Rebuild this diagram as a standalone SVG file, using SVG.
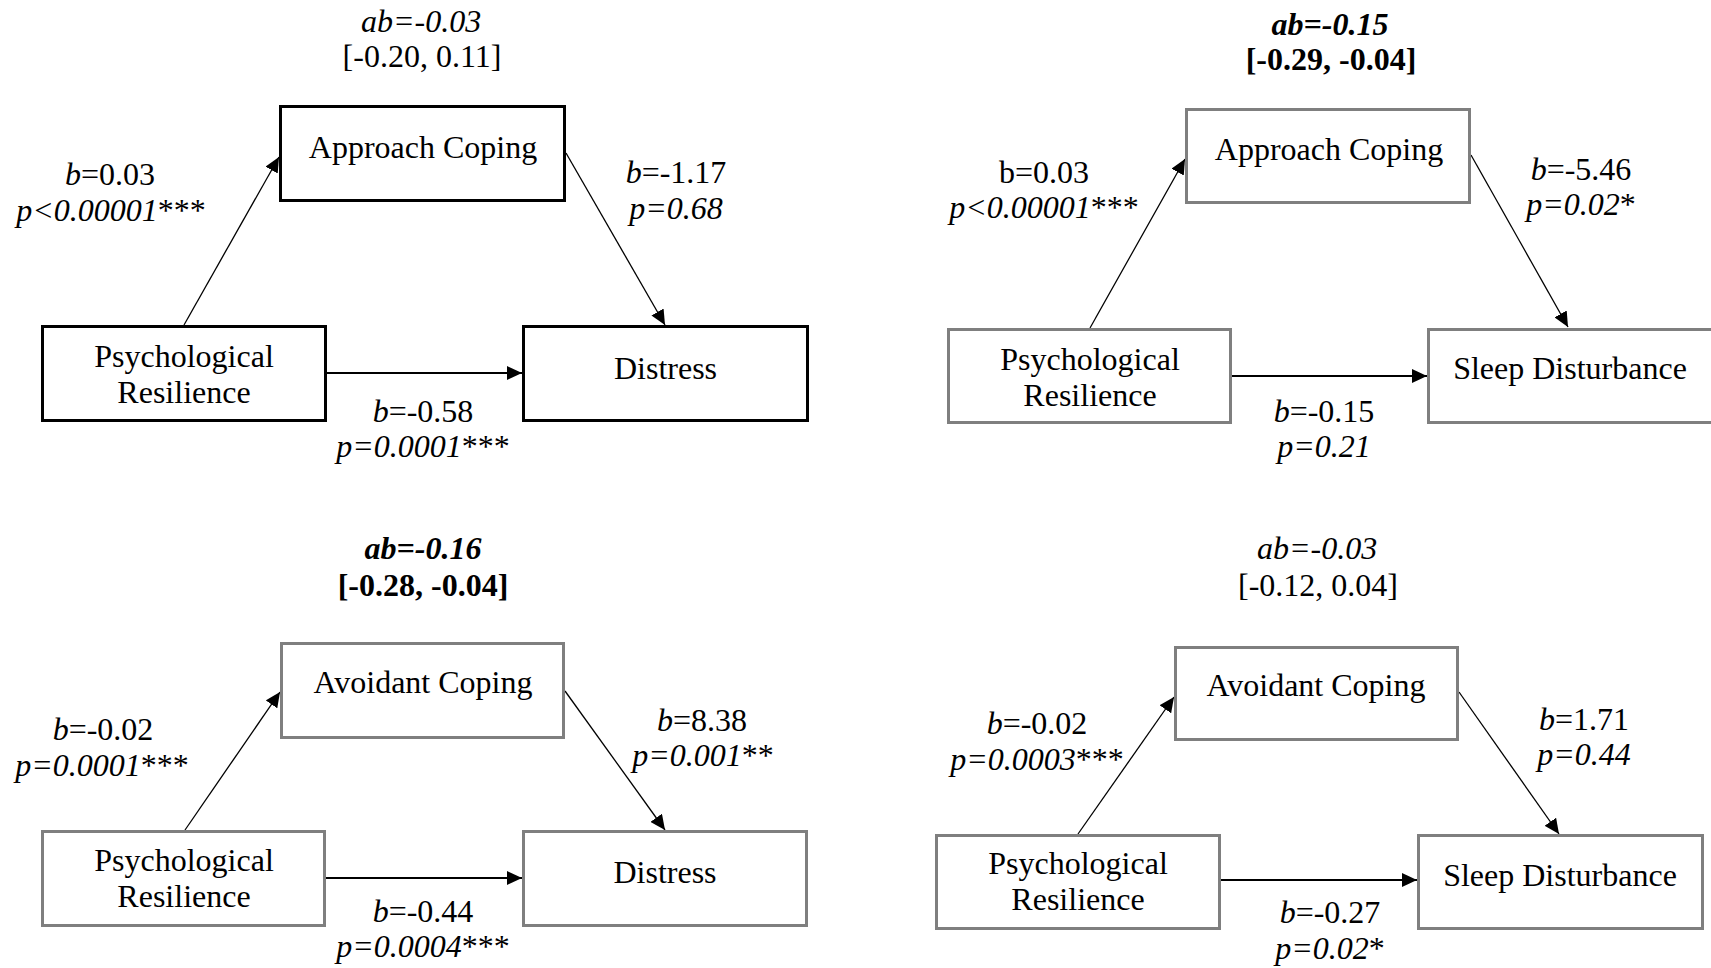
<svg xmlns="http://www.w3.org/2000/svg" width="1711" height="968" viewBox="0 0 1711 968">
<style>
text{font-family:"Liberation Serif","Times New Roman",serif;font-size:32px;fill:#000;text-anchor:middle}
.i{font-style:italic}
.n{font-style:normal}
.b{font-weight:bold}
.bk{fill:#fff;stroke:#000;stroke-width:3}
.gy{fill:#fff;stroke:#7f7f7f;stroke-width:3}
.d{stroke:#000;stroke-width:1.3;fill:none;marker-end:url(#ah)}
.h{stroke:#000;stroke-width:2;fill:none;marker-end:url(#ah)}
</style>
<defs>
<marker id="ah" viewBox="0 0 15 14" refX="15" refY="7" markerWidth="15" markerHeight="14" markerUnits="userSpaceOnUse" orient="auto">
<path d="M0,0 L15,7 L0,14 z" fill="#000"/>
</marker>
</defs>
<rect width="1711" height="968" fill="#fff"/>

<g id="connectors">
<line class="d" x1="184" y1="325" x2="279" y2="157"/>
<line class="d" x1="566" y1="153" x2="665" y2="325"/>
<line class="h" x1="327" y1="373" x2="522" y2="373"/>
<line class="d" x1="1090" y1="328" x2="1185" y2="159"/>
<line class="d" x1="1471" y1="155" x2="1568" y2="327"/>
<line class="h" x1="1232" y1="376" x2="1427" y2="376"/>
<line class="d" x1="185" y1="830" x2="280" y2="692"/>
<line class="d" x1="565" y1="691" x2="665" y2="830"/>
<line class="h" x1="326" y1="878" x2="522" y2="878"/>
<line class="d" x1="1078" y1="834" x2="1174" y2="697"/>
<line class="d" x1="1459" y1="692" x2="1559" y2="834"/>
<line class="h" x1="1221" y1="880" x2="1417" y2="880"/>
</g>

<g id="q1-approach">
<rect class="bk" x="280.5" y="106.5" width="284" height="94"/>
<text x="423" y="158">Approach Coping</text>
</g>
<g id="q1-resilience">
<rect class="bk" x="42.5" y="326.5" width="283" height="94"/>
<text x="184" y="367">Psychological</text>
<text x="184" y="403">Resilience</text>
</g>
<g id="q1-distress">
<rect class="bk" x="523.5" y="326.5" width="284" height="94"/>
<text x="665.5" y="379">Distress</text>
</g>
<g id="q1-labels">
<text class="i" x="421" y="32">ab=-0.03</text>
<text x="422" y="67">[-0.20, 0.11]</text>
<text x="110" y="185"><tspan class="i">b</tspan>=0.03</text>
<text x="111" y="221"><tspan class="i">p&lt;0.00001</tspan>***</text>
<text x="676" y="183"><tspan class="i">b</tspan>=-1.17</text>
<text class="i" x="676" y="219">p=0.68</text>
<text x="423" y="422"><tspan class="i">b</tspan>=-0.58</text>
<text x="423" y="457"><tspan class="i">p=0.0001</tspan>***</text>
</g>

<g id="q2-approach">
<rect class="gy" x="1186.5" y="109.5" width="283" height="93"/>
<text x="1329" y="160">Approach Coping</text>
</g>
<g id="q2-resilience">
<rect class="gy" x="948.5" y="329.5" width="282" height="93"/>
<text x="1090" y="370">Psychological</text>
<text x="1090" y="406">Resilience</text>
</g>
<g id="q2-sleep">
<rect class="gy" x="1428.5" y="329.5" width="284" height="93"/>
<text x="1570" y="379">Sleep Disturbance</text>
</g>
<g id="q2-labels">
<text class="i b" x="1330" y="35">ab=-0.15</text>
<text class="b" x="1331" y="70">[-0.29, -0.04]</text>
<text x="1044" y="183">b=0.03</text>
<text x="1044" y="218"><tspan class="i">p&lt;0.00001</tspan>***</text>
<text x="1581" y="180"><tspan class="i">b</tspan>=-5.46</text>
<text x="1581" y="215"><tspan class="i">p=0.02</tspan>*</text>
<text x="1324" y="422"><tspan class="i">b</tspan>=-0.15</text>
<text class="i" x="1324" y="457">p=0.21</text>
</g>

<g id="q3-avoidant">
<rect class="gy" x="281.5" y="643.5" width="282" height="94"/>
<text x="423" y="693">Avoidant Coping</text>
</g>
<g id="q3-resilience">
<rect class="gy" x="42.5" y="831.5" width="282" height="94"/>
<text x="184" y="871">Psychological</text>
<text x="184" y="907">Resilience</text>
</g>
<g id="q3-distress">
<rect class="gy" x="523.5" y="831.5" width="283" height="94"/>
<text x="665" y="883">Distress</text>
</g>
<g id="q3-labels">
<text class="i b" x="423" y="559">ab=-0.16</text>
<text class="b" x="423" y="596">[-0.28, -0.04]</text>
<text x="103" y="740"><tspan class="i">b</tspan>=-0.02</text>
<text x="102" y="776"><tspan class="i">p=0.0001</tspan>***</text>
<text x="702" y="731"><tspan class="i">b</tspan>=8.38</text>
<text x="703" y="766"><tspan class="i">p=0.001</tspan>**</text>
<text x="423" y="922"><tspan class="i">b</tspan>=-0.44</text>
<text x="423" y="957"><tspan class="i">p=0.0004</tspan>***</text>
</g>

<g id="q4-avoidant">
<rect class="gy" x="1175.5" y="647.5" width="282" height="92"/>
<text x="1316" y="696">Avoidant Coping</text>
</g>
<g id="q4-resilience">
<rect class="gy" x="936.5" y="835.5" width="283" height="93"/>
<text x="1078" y="874">Psychological</text>
<text x="1078" y="910">Resilience</text>
</g>
<g id="q4-sleep">
<rect class="gy" x="1418.5" y="835.5" width="284" height="93"/>
<text x="1560" y="886">Sleep Disturbance</text>
</g>
<g id="q4-labels">
<text class="i" x="1317" y="559">ab=-0.03</text>
<text x="1318" y="596">[-0.12, 0.04]</text>
<text x="1037" y="734"><tspan class="i">b</tspan>=-0.02</text>
<text x="1037" y="770"><tspan class="i">p=0.0003</tspan>***</text>
<text x="1584" y="730"><tspan class="i">b</tspan>=1.71</text>
<text class="i" x="1584" y="765">p=0.44</text>
<text x="1330" y="923"><tspan class="i">b</tspan>=-0.27</text>
<text x="1330" y="959"><tspan class="i">p=0.02</tspan>*</text>
</g>
</svg>
